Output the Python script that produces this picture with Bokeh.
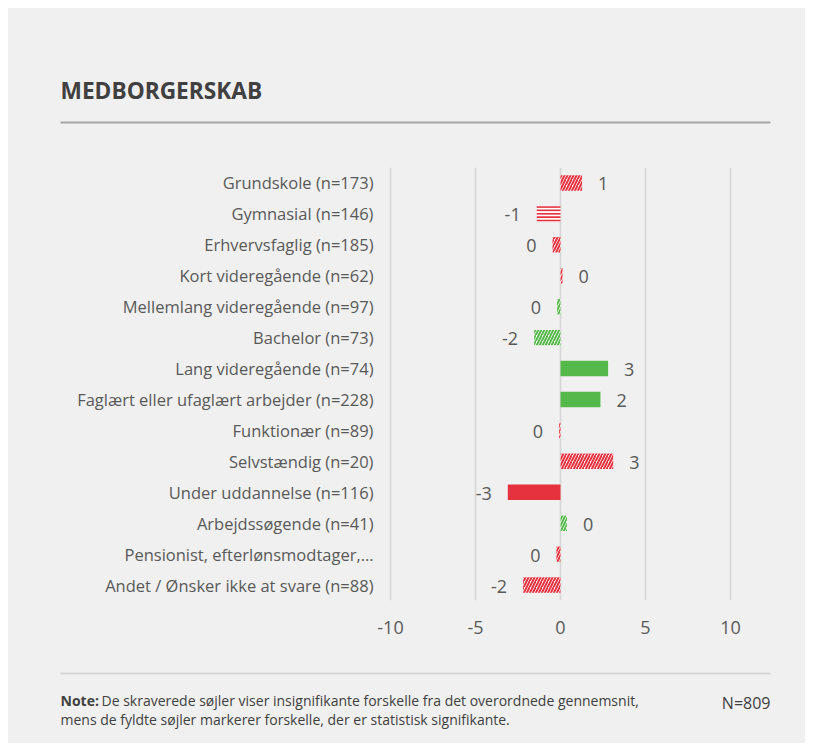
from bokeh.plotting import figure
from bokeh.models import ColumnDataSource, FactorRange, Range1d, FixedTicker
from bokeh.layouts import column
from bokeh.core.properties import value
from bokeh.embed import file_html
from bokeh.resources import INLINE

# ---------------- data ----------------
categories = [
    "Grundskole (n=173)",
    "Gymnasial (n=146)",
    "Erhvervsfaglig (n=185)",
    "Kort videregående (n=62)",
    "Mellemlang videregående (n=97)",
    "Bachelor (n=73)",
    "Lang videregående (n=74)",
    "Faglært eller ufaglært arbejder (n=228)",
    "Funktionær (n=89)",
    "Selvstændig (n=20)",
    "Under uddannelse (n=116)",
    "Arbejdssøgende (n=41)",
    "Pensionist, efterlønsmodtager,…",
    "Andet / Ønsker ikke at svare (n=88)",
]
differences = [1.27, -1.4, -0.47, 0.12, -0.2, -1.55, 2.8, 2.35, -0.08, 3.1, -3.1, 0.38, -0.24, -2.2]
favourable = [False, False, False, False, True, True, True, True, False, False, False, True, False, False]
significant = [False, False, False, False, False, False, True, True, False, False, True, False, False, False]
x_ticks = [-10, -5, 0, 5, 10]
x_tick_labels = {-10: "-10", -5: "-5", 0: "0", 5: "5", 10: "10"}
title_text = "MEDBORGERSKAB"
note_bold = "Note:"
note_line1 = "De skraverede søjler viser insignifikante forskelle fra det overordnede gennemsnit,"
note_line2 = "mens de fyldte søjler markerer forskelle, der er statistisk signifikante."
n_text = "N=809"

# ---------------- styles ----------------
RED = "#E6323E"
GREEN = "#55B84A"
TXT = "#595959"
DARK = "#404040"
BG = "#F0F0F0"
FONT = "Open Sans"
W = 797

fills, hcolors, hpatterns, hscales = [], [], [], []
for i, (fav, sig) in enumerate(zip(favourable, significant)):
    col = GREEN if fav else RED
    hcolors.append(col)
    if sig:
        fills.append(col)
        hpatterns.append(" ")
        hscales.append(6.0)
    else:
        fills.append("white")
        # Gymnasial uses a horizontal-line pattern in the source
        hpatterns.append("-" if i == 1 else "/")
        hscales.append(3.4 if i == 1 else 6.0)

src = ColumnDataSource(dict(
    cat=categories,
    left=[min(0, v) for v in differences],
    right=[max(0, v) for v in differences],
    fill=fills, hcolor=hcolors, hatch=hpatterns, hscale=hscales,
))


def deco_figure(height, ytop):
    """A figure whose data units are page pixels (decorations only)."""
    f = figure(width=W, height=height, output_backend="svg", toolbar_location=None,
               x_range=Range1d(8, 8 + W), y_range=Range1d(ytop + height, ytop),
               min_border=0, frame_align=False)
    f.axis.visible = False
    f.grid.visible = False
    f.outline_line_color = None
    f.background_fill_color = BG
    f.border_fill_color = BG
    return f


# ---------------- top: title + rule ----------------
TOP_H = 159
top = deco_figure(TOP_H, 8)
top.text(x=[60], y=[89.5], text=[title_text], text_font=value(FONT),
         text_font_size="22.7px", text_font_style="bold", text_color=DARK,
         text_baseline="middle")
top.segment(x0=[60], y0=[122], x1=[770], y1=[122], line_color="#A6A6A6", line_width=2)

# ---------------- main chart ----------------
MAIN_H = 483
p = figure(width=W, height=MAIN_H, output_backend="svg", toolbar_location=None,
           y_range=FactorRange(factors=list(reversed(categories))),
           x_range=Range1d(-10 - 10 / 17, 10 + 10 / 17),
           min_border_left=372, min_border_right=65,
           min_border_top=0, min_border_bottom=50, frame_align=False)
p.background_fill_color = BG
p.border_fill_color = BG
p.outline_line_color = None

p.hbar(y="cat", left="left", right="right", height=0.5, source=src,
       fill_color="fill", line_color=None,
       hatch_pattern="hatch", hatch_color="hcolor", hatch_scale="hscale",
       hatch_weight=2.0)

pos = [i for i, v in enumerate(differences) if v >= 0]
neg = [i for i, v in enumerate(differences) if v < 0]
for idx, align, off in ((pos, "left", 16), (neg, "right", -16)):
    s = ColumnDataSource(dict(
        x=[differences[i] for i in idx],
        y=[categories[i] for i in idx],
        t=["%d" % int(round(differences[i])) if abs(differences[i]) >= 0.5 else "0" for i in idx],
    ))
    p.text(x="x", y="y", text="t", source=s, x_offset=off, y_offset=1,
           text_align=align, text_baseline="middle",
           text_font=value(FONT), text_font_size="18px", text_color=TXT)

p.xaxis.ticker = FixedTicker(ticks=x_ticks)
p.xaxis.major_label_overrides = x_tick_labels
p.xaxis.axis_line_color = None
p.xaxis.major_tick_line_color = None
p.xaxis.minor_tick_line_color = None
p.xaxis.major_label_standoff = 14
p.xaxis.major_label_text_font = FONT
p.xaxis.major_label_text_font_size = "18px"
p.xaxis.major_label_text_color = TXT

p.yaxis.axis_line_color = None
p.yaxis.major_tick_line_color = None
p.yaxis.major_label_standoff = 1
p.yaxis.major_label_text_font = FONT
p.yaxis.major_label_text_font_size = "16.5px"
p.yaxis.major_label_text_color = TXT

p.xgrid.ticker = FixedTicker(ticks=x_ticks)
p.xgrid.grid_line_color = "#D6D6D6"
p.xgrid.grid_line_width = 1.6
p.ygrid.grid_line_color = None

# ---------------- bottom: rule + note ----------------
BOT_H = 735 - TOP_H - MAIN_H
bot = deco_figure(BOT_H, 8 + TOP_H + MAIN_H)
bot.segment(x0=[60], y0=[673], x1=[770], y1=[673], line_color="#D6D6D6", line_width=2)
bot.text(x=[60], y=[700], text=[note_bold], text_font=value(FONT), text_font_size="14px",
         text_font_style="bold", text_color=DARK, text_baseline="middle")
bot.text(x=[101], y=[700], text=[note_line1], text_font=value(FONT), text_font_size="14px",
         text_color=DARK, text_baseline="middle")
bot.text(x=[60], y=[719], text=[note_line2], text_font=value(FONT), text_font_size="14px",
         text_color=DARK, text_baseline="middle")
bot.text(x=[770], y=[702.5], text=[n_text], text_font=value(FONT), text_font_size="16px",
         text_color=DARK, text_baseline="middle", text_align="right")

layout = column(top, p, bot, spacing=0, margin=(8, 8, 8, 8),
                styles={"background-color": BG})
open("out.html", "w").write(file_html(layout, INLINE))
